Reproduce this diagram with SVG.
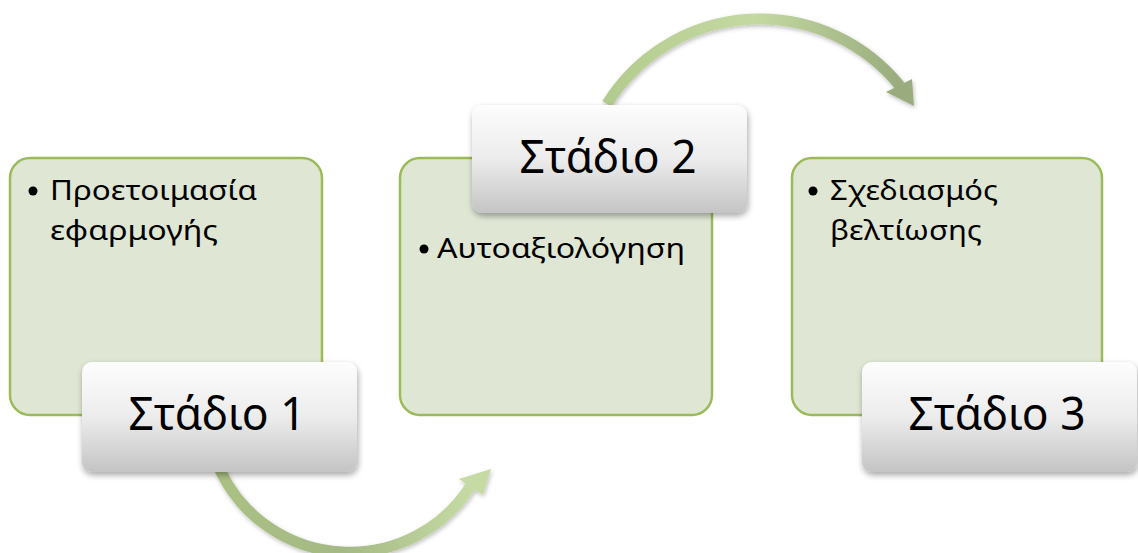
<svg xmlns="http://www.w3.org/2000/svg" width="1138" height="553" viewBox="0 0 1138 553">
<defs>
<linearGradient id="lbl" x1="0" y1="0" x2="0" y2="1">
<stop offset="0" stop-color="#fdfdfd"/>
<stop offset="0.5" stop-color="#ececec"/>
<stop offset="1" stop-color="#c4c4c4"/>
</linearGradient>
<linearGradient id="arrB" x1="0" y1="0" x2="1" y2="0">
<stop offset="0" stop-color="#aac084"/>
<stop offset="0.5" stop-color="#a4b985"/>
<stop offset="1" stop-color="#c6dba4"/>
</linearGradient>
<linearGradient id="arrT" x1="0" y1="0" x2="1" y2="0">
<stop offset="0" stop-color="#b4cb8f"/>
<stop offset="0.5" stop-color="#c4d9a2"/>
<stop offset="1" stop-color="#9aac7e"/>
</linearGradient>
<filter id="sh" x="-10%" y="-10%" width="125%" height="130%">
<feDropShadow dx="1" dy="3" stdDeviation="3" flood-color="#000" flood-opacity="0.35"/>
</filter>
<filter id="ash" x="-10%" y="-10%" width="125%" height="130%">
<feDropShadow dx="1" dy="2" stdDeviation="2" flood-color="#000" flood-opacity="0.25"/>
</filter>
</defs>
<style>
.box{fill:#dfe6d4;stroke:#9bbb59;stroke-width:2.5}
.lbl{fill:url(#lbl);filter:url(#sh)}
.lt{font-family:"Noto Sans","DejaVu Sans",sans-serif;font-size:46px;fill:#000;text-anchor:middle}
.bt{font-family:"Noto Sans","DejaVu Sans",sans-serif;font-size:28px;fill:#000}
.dot{fill:#000}
</style>
<rect width="1138" height="553" fill="#fff"/>
<g id="connectors" filter="url(#ash)">
<path d="M220,470 A143.5,143.5 0 0 0 472,484" fill="none" stroke="url(#arrB)" stroke-width="11"/>
<polygon points="491,469 459,479 483,495" fill="#c6dba4"/>
<path d="M607,104 A180,180 0 0 1 900,86" fill="none" stroke="url(#arrT)" stroke-width="11"/>
<polygon points="914,106 886,92 912,79" fill="#9aac7e"/>
</g>
<g id="stage1">
<rect class="box" x="10" y="158" width="312" height="257" rx="20"/>
<circle class="dot" cx="33" cy="191" r="4.5"/>
<text class="bt" x="50" y="200" textLength="207" lengthAdjust="spacingAndGlyphs">Προετοιμασία</text>
<text class="bt" x="50" y="240" textLength="168" lengthAdjust="spacingAndGlyphs">εφαρμογής</text>
<rect class="lbl" x="82" y="362" width="275" height="110" rx="10"/>
<text class="lt" x="217" y="430" textLength="177" lengthAdjust="spacingAndGlyphs">Στάδιο 1</text>
</g>
<g id="stage2">
<rect class="box" x="400" y="158" width="312" height="257" rx="20"/>
<circle class="dot" cx="424" cy="249" r="4.5"/>
<text class="bt" x="437" y="258" textLength="248" lengthAdjust="spacingAndGlyphs">Αυτοαξιολόγηση</text>
<rect class="lbl" x="472" y="105" width="275" height="108" rx="10"/>
<text class="lt" x="608" y="173" textLength="177" lengthAdjust="spacingAndGlyphs">Στάδιο 2</text>
</g>
<g id="stage3">
<rect class="box" x="792" y="158" width="310" height="257" rx="20"/>
<circle class="dot" cx="813" cy="191" r="4.5"/>
<text class="bt" x="830" y="200" textLength="168" lengthAdjust="spacingAndGlyphs">Σχεδιασμός</text>
<text class="bt" x="830" y="240" textLength="152" lengthAdjust="spacingAndGlyphs">βελτίωσης</text>
<rect class="lbl" x="862" y="362" width="275" height="110" rx="10"/>
<text class="lt" x="997" y="430" textLength="177" lengthAdjust="spacingAndGlyphs">Στάδιο 3</text>
</g>
</svg>
